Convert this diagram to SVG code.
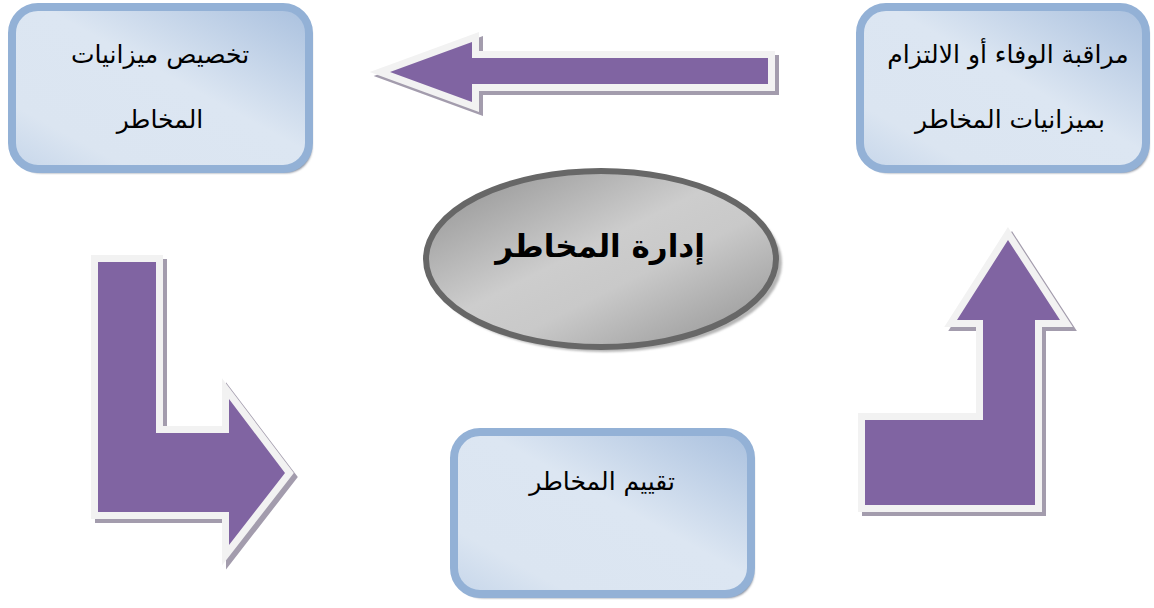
<svg xmlns="http://www.w3.org/2000/svg" width="1154" height="608" viewBox="0 0 1154 608">
  <defs>
    <linearGradient id="boxFill" x1="0" y1="1" x2="1" y2="0">
      <stop offset="0" stop-color="#c6d6ea"/>
      <stop offset="0.2" stop-color="#dbe5f1"/>
      <stop offset="0.55" stop-color="#dce6f2"/>
      <stop offset="1" stop-color="#a9c0de"/>
    </linearGradient>
    <linearGradient id="ovalFill" x1="0" y1="0" x2="1" y2="1">
      <stop offset="0" stop-color="#8e8e8e"/>
      <stop offset="0.45" stop-color="#cdcdcd"/>
      <stop offset="0.6" stop-color="#c9c9c9"/>
      <stop offset="1" stop-color="#909090"/>
    </linearGradient>
    <filter id="soft" x="-10%" y="-10%" width="120%" height="120%">
      <feGaussianBlur stdDeviation="1.2"/>
    </filter>
    <style>
      .box { fill: url(#boxFill); stroke: #93b1d6; stroke-width: 8; }
      .boxShadow { fill: #7f8796; filter: url(#soft); }
      .arrow { fill: #8064a2; stroke: #f2f2f2; stroke-width: 14; stroke-linejoin: miter; paint-order: stroke; }
      .arrowShadow { fill: #a39cad; stroke: #a39cad; stroke-width: 14; stroke-linejoin: miter; }
      .label { font-family: "DejaVu Sans", sans-serif; font-size: 25px; fill: #000; text-anchor: middle; direction: rtl; }
      .title { font-family: "DejaVu Sans", sans-serif; font-size: 31px; font-weight: bold; fill: #000; text-anchor: middle; direction: rtl; }
    </style>
  </defs>

  <!-- connectors: block arrows between the stages -->
  <g id="connectors">
    <g id="arrow-top">
      <polygon class="arrowShadow" transform="translate(4,4)" points="390,72 472,42 472,58 768,58 768,84 472,84 472,102"/>
      <polygon class="arrow" points="390,72 472,42 472,58 768,58 768,84 472,84 472,102"/>
    </g>
    <g id="arrow-left">
      <polygon class="arrowShadow" transform="translate(4,4)" points="98,262 156,262 156,433 229,433 229,399 285,473 229,545 229,512 98,512"/>
      <polygon class="arrow" points="98,262 156,262 156,433 229,433 229,399 285,473 229,545 229,512 98,512"/>
    </g>
    <g id="arrow-right">
      <polygon class="arrowShadow" transform="translate(4,4)" points="865,505 865,420 983,420 983,320 957,320 1008,240 1060,320 1035,320 1035,505"/>
      <polygon class="arrow" points="865,505 865,420 983,420 983,320 957,320 1008,240 1060,320 1035,320 1035,505"/>
    </g>
  </g>

  <!-- allocation of risk budgets -->
  <g id="node-allocate">
    <rect class="boxShadow" x="15" y="11" width="297" height="162" rx="26"/>
    <rect class="box" x="12" y="7" width="297" height="162" rx="26"/>
    <text class="label" x="160" y="63">تخصيص ميزانيات</text>
    <text class="label" x="160" y="128">المخاطر</text>
  </g>

  <!-- monitoring compliance -->
  <g id="node-monitor">
    <rect class="boxShadow" x="863" y="11" width="286" height="162" rx="26"/>
    <rect class="box" x="860" y="7" width="286" height="162" rx="26"/>
    <text class="label" x="1008" y="63">مراقبة الوفاء أو الالتزام</text>
    <text class="label" x="1010" y="128">بميزانيات المخاطر</text>
  </g>

  <!-- risk assessment -->
  <g id="node-assess">
    <rect class="boxShadow" x="457" y="436" width="297" height="162" rx="26"/>
    <rect class="box" x="454" y="432" width="297" height="162" rx="26"/>
    <text class="label" x="602" y="490">تقييم المخاطر</text>
  </g>

  <!-- central oval -->
  <g id="node-center">
    <ellipse cx="605" cy="263" rx="177" ry="89" fill="#b5b5b5" filter="url(#soft)"/>
    <ellipse cx="601" cy="259" rx="175" ry="88" fill="url(#ovalFill)" stroke="#676767" stroke-width="6"/>
    <text class="title" x="600" y="257">إدارة المخاطر</text>
  </g>
</svg>
